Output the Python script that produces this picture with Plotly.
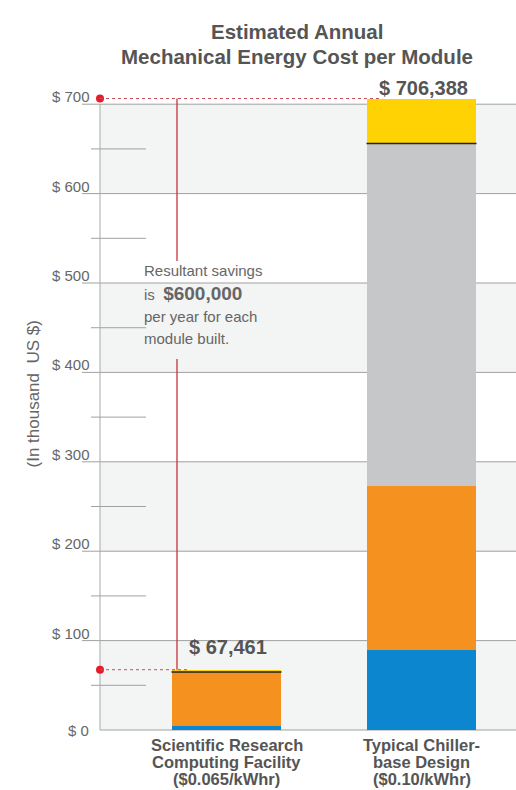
import plotly.graph_objects as go

# ---- data ----
cat_lines = [["Scientific Research", "Computing Facility", "($0.065/kWhr)"],
             ["Typical Chiller-", "base Design", "($0.10/kWhr)"]]
blue_vals = [4.0, 90.0]
orange_vals = [61.0, 183.0]
gray_vals = [0.0, 383.0]
yellow_vals = [2.461, 50.388]
totals = [67.461, 706.388]
total_labels = ["$ 67,461", "$ 706,388"]
major_ticks = [0, 100, 200, 300, 400, 500, 600, 700]
major_labels = ["$ 0", "$ 100", "$ 200", "$ 300", "$ 400", "$ 500", "$ 600", "$ 700"]
minor_ticks = [50, 150, 250, 350, 450, 550, 650]

BLUE = "#0b86cf"
ORANGE = "#f5921f"
GRAY = "#c6c7c9"
YELLOW = "#ffd204"
TXT = "#555555"
RED = "#e31b2a"
FONT = "Liberation Sans, Arial, sans-serif"

def px2x(px):
    return (px - 226.5) / 195.0

def py2y(py):
    return (730 - py) / 0.894

def px2p(px):
    return (px - 80) / 436.0

def py2p(py):
    return (730 - py) / 666.0

def v2p(v):
    return py2p(730 - v * 0.894)

xs = [0, 1]
bw = 0.564

fig = go.Figure()
for name, vals, col in [("Blue", blue_vals, BLUE), ("Orange", orange_vals, ORANGE),
                        ("Gray", gray_vals, GRAY), ("Yellow", yellow_vals, YELLOW)]:
    fig.add_trace(go.Bar(x=xs, y=vals, width=bw, marker=dict(color=col, line=dict(width=0)),
                         name=name, showlegend=False, hoverinfo="skip"))

shapes = []
for lo in [0, 200, 400, 600]:
    shapes.append(dict(type="rect", xref="paper", yref="paper", x0=px2p(100), x1=1.0,
                       y0=v2p(lo), y1=v2p(lo + 100),
                       fillcolor="#f3f4f4", line=dict(width=0), layer="below"))
for t in major_ticks:
    x0 = px2p(100) if t == 0 else px2p(82)
    shapes.append(dict(type="line", xref="paper", yref="paper", x0=x0, x1=1.0, y0=v2p(t), y1=v2p(t),
                       line=dict(color="#a0a0a0", width=1), layer="below"))
for t in minor_ticks:
    shapes.append(dict(type="line", xref="paper", yref="y", x0=px2p(91), x1=px2p(146), y0=t, y1=t,
                       line=dict(color="#a0a0a0", width=1), layer="below"))
shapes.append(dict(type="line", xref="paper", yref="y", x0=px2p(100), x1=px2p(100), y0=0, y1=700,
                   line=dict(color="#a8a8a8", width=1), layer="below"))
for i in range(2):
    base = blue_vals[i] + orange_vals[i] + gray_vals[i]
    shapes.append(dict(type="line", xref="x", yref="y", x0=xs[i] - bw / 2, x1=xs[i] + bw / 2,
                       y0=base, y1=base, line=dict(color="#222222", width=1.5), layer="above"))
for i in range(2):
    shapes.append(dict(type="line", xref="x", yref="y", x0=px2x(100), x1=xs[i] - bw / 2 + 0.08,
                       y0=totals[i], y1=totals[i], line=dict(color="#c8505a", width=1, dash="dot"),
                       layer="above"))
xv = px2x(177)
shapes.append(dict(type="line", xref="x", yref="y", x0=xv, x1=xv, y0=totals[1], y1=py2y(261),
                   line=dict(color="#c8323c", width=1.3), layer="above"))
shapes.append(dict(type="line", xref="x", yref="y", x0=xv, x1=xv, y0=py2y(359), y1=totals[0],
                   line=dict(color="#c8323c", width=1.3), layer="above"))

fig.add_trace(go.Scatter(x=[px2x(100), px2x(100)], y=totals, mode="markers",
                         marker=dict(color=RED, size=8), cliponaxis=False,
                         showlegend=False, hoverinfo="skip"))

ann = []
ann.append(dict(xref="paper", yref="paper", x=px2p(297), y=py2p(18), text="<b>Estimated Annual</b>",
                showarrow=False, font=dict(family=FONT, size=20.5, color=TXT)))
ann.append(dict(xref="paper", yref="paper", x=px2p(297), y=py2p(43),
                text="<b>Mechanical Energy Cost per Module</b>",
                showarrow=False, font=dict(family=FONT, size=20.5, color=TXT)))
for t, lab in zip(major_ticks, major_labels):
    if t == 0:
        ann.append(dict(xref="paper", yref="y", x=px2p(91), y=t, text=lab, xanchor="right",
                        yanchor="middle", showarrow=False, font=dict(family=FONT, size=15, color="#666")))
    else:
        ann.append(dict(xref="paper", yref="y", x=px2p(92), y=t, text=lab, xanchor="right",
                        yanchor="bottom", yshift=-3, showarrow=False,
                        font=dict(family=FONT, size=15, color="#666")))
ann.append(dict(xref="paper", yref="paper", x=px2p(21), y=py2p(394), text="(In thousand  US $)",
                textangle=-90, showarrow=False, font=dict(family=FONT, size=17, color="#666")))
label_shift = [10, -2]
for i in range(2):
    ann.append(dict(xref="x", yref="y", x=xs[i] + 0.01, y=totals[i], text="<b>" + total_labels[i] + "</b>",
                    yanchor="bottom", yshift=label_shift[i], showarrow=False,
                    font=dict(family=FONT, size=20, color=TXT)))
sav = [("Resultant savings", 270), ("is  <b><span style='font-size:19px'>$600,000</span></b>", 293),
       ("per year for each", 316), ("module built.", 338)]
for text, py in sav:
    ann.append(dict(xref="paper", yref="paper", x=px2p(142), y=py2p(py), text=text, xanchor="left",
                    yanchor="middle", showarrow=False, font=dict(family=FONT, size=15, color="#666")))
for i in range(2):
    for j, line in enumerate(cat_lines[i]):
        ann.append(dict(xref="x", yref="paper", x=xs[i], y=py2p(745 + 17 * j), text="<b>" + line + "</b>",
                        yanchor="middle", showarrow=False,
                        font=dict(family=FONT, size=16.5, color=TXT)))

fig.update_layout(
    width=516, height=790,
    margin=dict(l=80, r=0, t=64, b=60),
    paper_bgcolor="white", plot_bgcolor="white",
    barmode="stack", bargap=0,
    xaxis=dict(range=[px2x(80), px2x(516)], showgrid=False, zeroline=False,
               showticklabels=False, fixedrange=True),
    yaxis=dict(range=[0, 745], showgrid=False, zeroline=False, showticklabels=False,
               fixedrange=True),
    shapes=shapes, annotations=ann, showlegend=False,
)

fig.write_html("out.html")
